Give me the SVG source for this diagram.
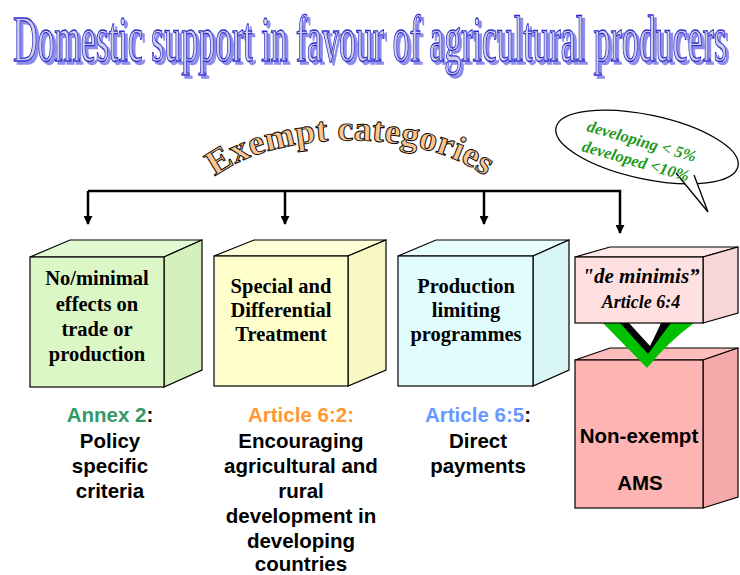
<svg xmlns="http://www.w3.org/2000/svg" width="740" height="575" viewBox="0 0 740 575">
  <style>
    .edge { stroke: #000; stroke-width: 1.2; stroke-linejoin: miter; }
    .btxt { font-family: "Liberation Serif", "Times New Roman", serif; font-weight: bold; font-size: 20.5px; text-anchor: middle; fill: #000; }
    .lbl { font-family: "Liberation Sans", Arial, sans-serif; font-weight: bold; font-size: 20.5px; text-anchor: middle; fill: #000; }
    .conn { stroke: #000; stroke-width: 2.5; fill: none; }
    .green { fill: #339966; }
    .orange { fill: #ff9933; }
    .blue { fill: #6699ff; }
  </style>
  <defs>
    <marker id="arrow" viewBox="0 0 10 10" refX="9" refY="5" markerWidth="3.6" markerHeight="3.6" orient="auto" markerUnits="strokeWidth">
      <path d="M0,0 L10,5 L0,10 Z" fill="#000"/>
    </marker>
    <path id="arc" d="M198,194 A160,78 0 0 1 502,194"/>
    <filter id="titleShadow" x="-5%" y="-20%" width="110%" height="150%">
      <feOffset in="SourceAlpha" dx="3" dy="3" result="off"/>
      <feFlood flood-color="#8c8cec"/>
      <feComposite in2="off" operator="in" result="shadow"/>
      <feMerge>
        <feMergeNode in="shadow"/>
        <feMergeNode in="SourceGraphic"/>
      </feMerge>
    </filter>
  </defs>

  <rect width="740" height="575" fill="#fff"/>

  <!-- title (condensed WordArt style) -->
  <g id="title">
    <text x="13" y="61" filter="url(#titleShadow)" font-family="'Liberation Serif', 'Times New Roman', serif" font-size="66" textLength="714" lengthAdjust="spacingAndGlyphs" fill="#cfcfe6" stroke="#2a2ad0" stroke-width="1.3">Domestic support in favour of agricultural producers</text>
  </g>

  <!-- arched heading -->
  <g id="heading">
    <text font-family="'Liberation Serif', 'Times New Roman', serif" font-weight="bold" font-size="35" fill="#fcc48e" stroke="#000" stroke-width="0.9">
      <textPath href="#arc" startOffset="50%" text-anchor="middle" textLength="284" lengthAdjust="spacingAndGlyphs">Exempt categories</textPath>
    </text>
  </g>

  <!-- speech bubble -->
  <g id="bubble">
    <ellipse cx="647" cy="147" rx="93" ry="32" transform="rotate(12 647 147)" fill="#fff" stroke="#000" stroke-width="1.3"/>
    <path d="M676,173 L708,212 L694,175" fill="#fff" stroke="#000" stroke-width="1.3" stroke-linejoin="miter"/>
    <g font-family="'Liberation Serif', 'Times New Roman', serif" font-weight="bold" font-style="italic" font-size="16.5" fill="#1f9a1f">
      <text x="586" y="131" transform="rotate(16 586 131)">developing &lt; 5%</text>
      <text x="581" y="151" transform="rotate(16 581 151)">developed &lt;10%</text>
    </g>
  </g>

  <!-- connectors -->
  <g id="connectors">
    <polyline class="conn" points="88,191 620,191 620,233" marker-end="url(#arrow)"/>
    <line class="conn" x1="88" y1="191" x2="88" y2="224" marker-end="url(#arrow)"/>
    <line class="conn" x1="285" y1="191" x2="285" y2="224" marker-end="url(#arrow)"/>
    <line class="conn" x1="484" y1="191" x2="484" y2="224" marker-end="url(#arrow)"/>
  </g>

  <!-- cube 1 -->
  <g id="box-annex2">
    <polygon class="edge" points="30,257 70,240 202,240 164,257" fill="#e3f9d2"/>
    <polygon class="edge" points="164,257 202,240 202,370 164,387" fill="#d3f0bd"/>
    <rect class="edge" x="30" y="257" width="134" height="130" fill="#dcf7c6"/>
    <text class="btxt" x="97" y="285">No/minimal</text>
    <text class="btxt" x="97" y="311">effects on</text>
    <text class="btxt" x="97" y="336">trade or</text>
    <text class="btxt" x="97" y="361">production</text>
  </g>

  <!-- cube 2 -->
  <g id="box-sdt">
    <polygon class="edge" points="214,256 254,240 386,240 348,256" fill="#ffffd6"/>
    <polygon class="edge" points="348,256 386,240 386,370 348,386" fill="#f8f8c4"/>
    <rect class="edge" x="214" y="256" width="134" height="130" fill="#ffffcc"/>
    <text class="btxt" x="281" y="293">Special and</text>
    <text class="btxt" x="281" y="317">Differential</text>
    <text class="btxt" x="281" y="341">Treatment</text>
  </g>

  <!-- cube 3 -->
  <g id="box-plp">
    <polygon class="edge" points="398,256 436,240 569,240 533,256" fill="#e8ffff"/>
    <polygon class="edge" points="533,256 569,240 569,370 533,386" fill="#d8f6f6"/>
    <rect class="edge" x="398" y="256" width="135" height="130" fill="#e0fcfc"/>
    <text class="btxt" x="466" y="293">Production</text>
    <text class="btxt" x="466" y="317">limiting</text>
    <text class="btxt" x="466" y="341">programmes</text>
  </g>

  <!-- cube 5: non-exempt -->
  <g id="box-ams">
    <polygon class="edge" points="575,360 610,348 738,348 703,360" fill="#ffbcbc"/>
    <polygon class="edge" points="703,360 738,348 738,497 703,508" fill="#f4aaaa"/>
    <rect class="edge" x="575" y="360" width="128" height="148" fill="#ffb4b4"/>
    <text class="lbl" x="639" y="443" font-size="21.5">Non-exempt</text>
    <text class="lbl" x="640" y="490" font-size="24">AMS</text>
  </g>

  <!-- bent green arrow from de minimis into AMS -->
  <g id="arrow-deminimis">
    <path d="M618,323 L629,323 L650,346 Q657,332 661,323 L673,323 Q662,338 649,356 Z" fill="#000"/>
    <path d="M603,323 L620,323 L648,354 Q661,336 671,323 L694,323 Q668,342 647,368 Z" fill="#00c000"/>
  </g>

  <!-- cube 4: de minimis -->
  <g id="box-deminimis">
    <polygon class="edge" points="575,257 610,247 738,247 703,257" fill="#ffe8e8"/>
    <polygon class="edge" points="703,257 738,247 738,313 703,323" fill="#f6d6d6"/>
    <rect class="edge" x="575" y="257" width="128" height="66" fill="#ffe0e0"/>
    <text x="641" y="283" font-family="'Liberation Serif', 'Times New Roman', serif" font-weight="bold" font-style="italic" font-size="21" text-anchor="middle">"de minimis”</text>
    <text x="641" y="308" font-family="'Liberation Serif', 'Times New Roman', serif" font-weight="bold" font-style="italic" font-size="18" text-anchor="middle">Article 6:4</text>
  </g>

  <!-- legal references -->
  <g id="label-annex2">
    <text class="lbl" x="110" y="422"><tspan class="green">Annex 2</tspan>:</text>
    <text class="lbl" x="110" y="448">Policy</text>
    <text class="lbl" x="110" y="473">specific</text>
    <text class="lbl" x="110" y="498">criteria</text>
  </g>
  <g id="label-art62">
    <text class="lbl" x="301" y="422"><tspan class="orange">Article 6:2:</tspan></text>
    <text class="lbl" x="301" y="448">Encouraging</text>
    <text class="lbl" x="301" y="473">agricultural and</text>
    <text class="lbl" x="301" y="498">rural</text>
    <text class="lbl" x="301" y="523">development in</text>
    <text class="lbl" x="301" y="548">developing</text>
    <text class="lbl" x="301" y="571">countries</text>
  </g>
  <g id="label-art65">
    <text class="lbl" x="478" y="422"><tspan class="blue">Article 6:5</tspan>:</text>
    <text class="lbl" x="478" y="448">Direct</text>
    <text class="lbl" x="478" y="473">payments</text>
  </g>
</svg>
